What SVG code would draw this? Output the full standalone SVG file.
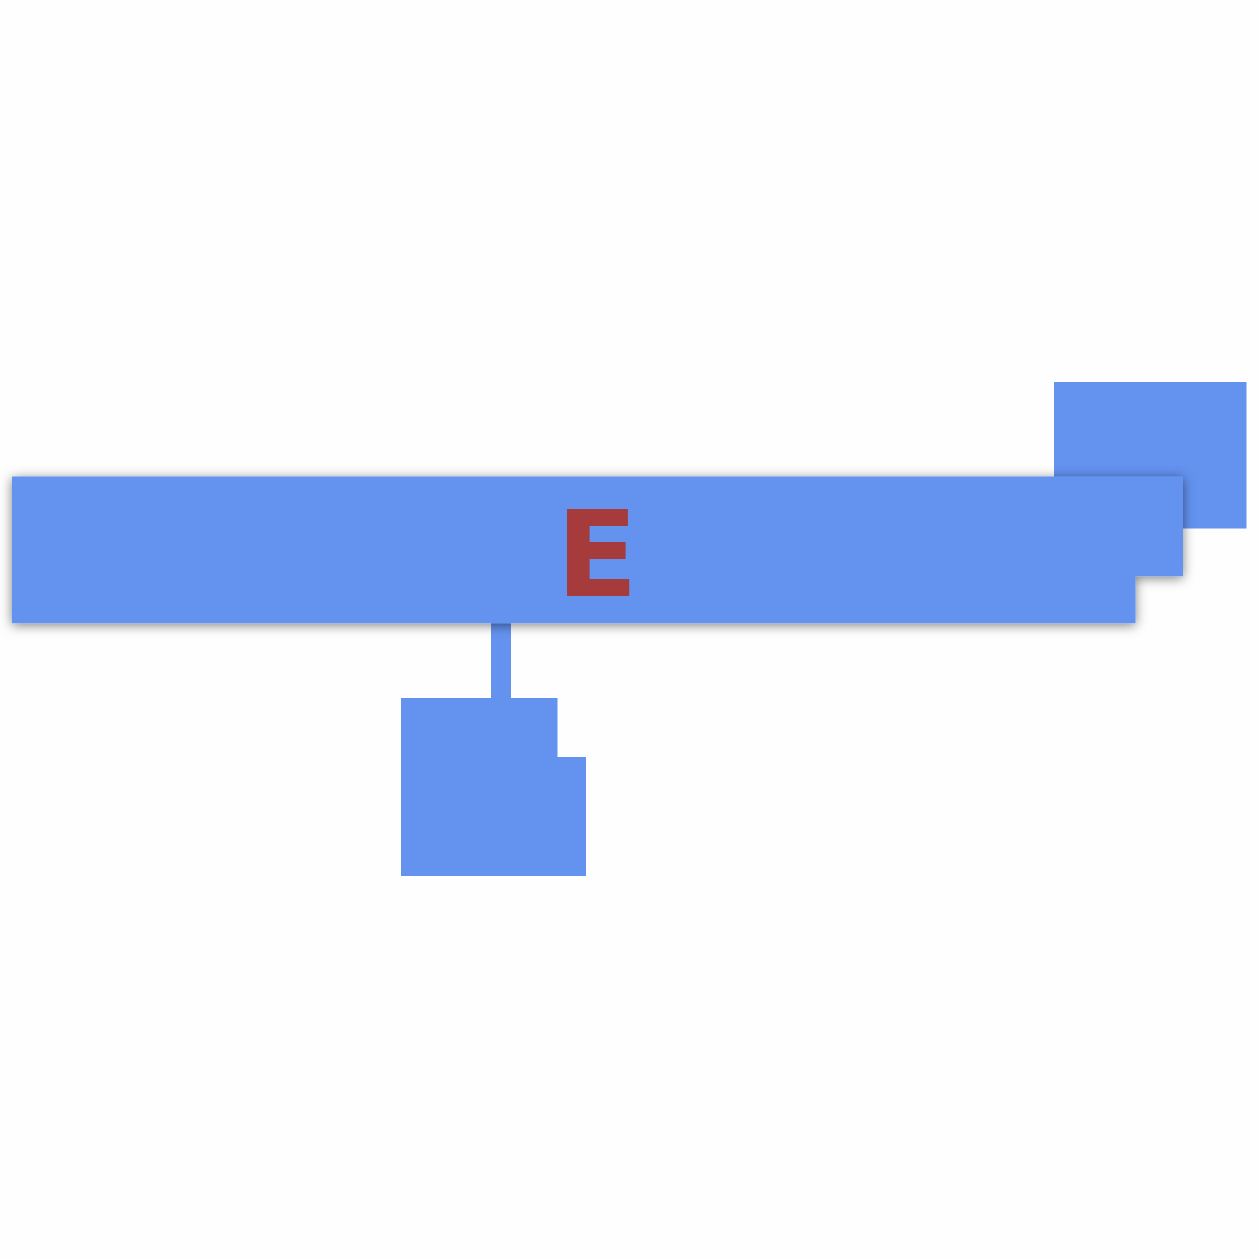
<svg xmlns="http://www.w3.org/2000/svg" width="1258" height="1258" viewBox="0 0 1258 1258">
<style>
.shape{fill:#6392ef;}
.label{font-family:"DejaVu Sans",sans-serif;font-weight:bold;font-size:120px;fill:#a63b3b;}
.conn{fill:#6392ef;}
</style>
<defs>
<filter id="sh" x="-5%" y="-30%" width="110%" height="160%">
<feDropShadow dx="0" dy="2" stdDeviation="6" flood-color="#000" flood-opacity="0.5"/>
</filter>
</defs>
<rect width="1258" height="1258" fill="#fefefe"/>
<g id="node-topright">
<rect class="shape" x="1054" y="382" width="192.5" height="146.5"/>
</g>
<g id="connectors">
<rect class="conn" x="491" y="620" width="20" height="80"/>
</g>
<g id="node-bottom">
<polygon class="shape" points="401,698 557.5,698 557.5,757 586,757 586,876 401,876"/>
</g>
<g id="node-main">
<polygon class="shape" filter="url(#sh)" points="12,476.5 1183,476.5 1183,576.3 1135.5,576.3 1135.5,623.3 12,623.3"/>
<text class="label" x="597" y="596" text-anchor="middle">E</text>
</g>
</svg>
